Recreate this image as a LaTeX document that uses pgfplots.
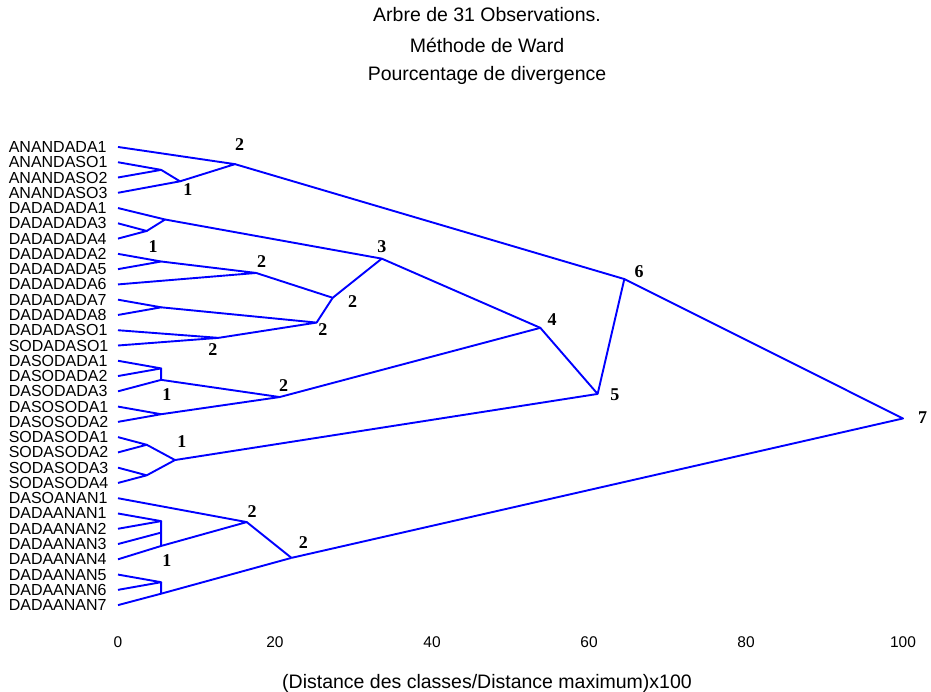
\documentclass[border=0pt]{standalone}
\usepackage{pgfplots}
\pgfplotsset{compat=1.18}
\usepackage{fontspec}
\setmainfont{Liberation Sans}
\newfontfamily\tnr{Liberation Serif}
\begin{document}
\begin{tikzpicture}[x=1pt,y=1pt]
\useasboundingbox (0,0) rectangle (931,692);
\node[font=\fontsize{19.5}{23}\selectfont] at (487,677) {Arbre de 31 Observations.};
\node[font=\fontsize{19.5}{23}\selectfont] at (487,647) {Méthode de Ward};
\node[font=\fontsize{19.5}{23}\selectfont] at (487,617) {Pourcentage de divergence};
\node[font=\fontsize{19.5}{23}\selectfont] at (487,9) {(Distance des classes/Distance maximum)x100};
\begin{axis}[at={(118pt,71.6pt)}, anchor=south west, scale only axis,
  width=785pt, height=488.7pt,
  xmin=0, xmax=100, ymin=-1, ymax=31, clip=false,
  axis lines*=left, axis line style={draw=none}, tick style={draw=none},
  major tick length=0pt,
  xtick={0,20,40,60,80,100},
  ytick={0,...,30},
  yticklabels={DADAANAN7,DADAANAN6,DADAANAN5,DADAANAN4,DADAANAN3,DADAANAN2,DADAANAN1,DASOANAN1,SODASODA4,SODASODA3,SODASODA2,SODASODA1,DASOSODA2,DASOSODA1,DASODADA3,DASODADA2,DASODADA1,SODADASO1,DADADASO1,DADADADA8,DADADADA7,DADADADA6,DADADADA5,DADADADA2,DADADADA4,DADADADA3,DADADADA1,ANANDASO3,ANANDASO2,ANANDASO1,ANANDADA1},
  /pgf/number format/assume math mode=true,
  xticklabel style={font=\fontsize{15.5}{18}\selectfont, anchor=center, yshift=-21.6pt},
  yticklabel style={font=\fontsize{16}{16}\selectfont, inner sep=0pt, text width=100pt, align=left, xshift=-9pt},
  br/.style={color=blue, solid, line width=1.9pt, mark=none, line join=round},
]
\addplot[br] coordinates {(0,29) (5.5,28.5) (0,28)};
\addplot[br] coordinates {(5.5,28.5) (7.9,27.75) (0,27)};
\addplot[br] coordinates {(0,30) (14.9,28.875) (7.9,27.75)};
\addplot[br] coordinates {(14.9,28.875) (64.5,21.3516) (100,12.2227) (22.1,3.0938)};
\addplot[br] coordinates {(0,25) (3.66,24.5) (0,24)};
\addplot[br] coordinates {(0,26) (6.0,25.25) (3.66,24.5)};
\addplot[br] coordinates {(6.0,25.25) (33.6,22.6875) (53.8,18.1563) (61.1,13.8281) (64.5,21.3516)};
\addplot[br] coordinates {(0,23) (5.5,22.5) (0,22)};
\addplot[br] coordinates {(5.5,22.5) (17.6,21.75) (0,21)};
\addplot[br] coordinates {(17.6,21.75) (27.35,20.125) (33.6,22.6875)};
\addplot[br] coordinates {(0,20) (5.5,19.5) (0,19)};
\addplot[br] coordinates {(0,18) (12.8,17.5) (0,17)};
\addplot[br] coordinates {(5.5,19.5) (25.3,18.5) (12.8,17.5)};
\addplot[br] coordinates {(25.3,18.5) (27.35,20.125)};
\addplot[br] coordinates {(0,16) (5.5,15.5) (0,15)};
\addplot[br] coordinates {(5.5,15.5) (5.5,14.75) (0,14)};
\addplot[br] coordinates {(0,13) (5.5,12.5) (0,12)};
\addplot[br] coordinates {(5.5,14.75) (20.6,13.625) (5.5,12.5)};
\addplot[br] coordinates {(20.6,13.625) (53.8,18.1563)};
\addplot[br] coordinates {(0,11) (3.66,10.5) (0,10)};
\addplot[br] coordinates {(0,9) (3.66,8.5) (0,8)};
\addplot[br] coordinates {(3.66,10.5) (7.26,9.5) (3.66,8.5)};
\addplot[br] coordinates {(7.26,9.5) (61.1,13.8281)};
\addplot[br] coordinates {(0,6) (5.5,5.5) (0,5)};
\addplot[br] coordinates {(5.5,5.5) (5.5,4.75) (0,4)};
\addplot[br] coordinates {(5.5,4.75) (5.5,3.875) (0,3)};
\addplot[br] coordinates {(0,7) (16.4,5.4375) (5.5,3.875)};
\addplot[br] coordinates {(16.4,5.4375) (22.1,3.0938)};
\addplot[br] coordinates {(0,2) (5.5,1.5) (0,1)};
\addplot[br] coordinates {(5.5,1.5) (5.5,0.75) (0,0)};
\addplot[br] coordinates {(5.5,0.75) (22.1,3.0938)};
\begin{scope}[every node/.style={font=\tnr\bfseries\fontsize{18}{20}\selectfont, inner sep=0pt}]
\node at (axis cs:15.5,30.13) {2};
\node at (axis cs:8.9,27.18) {1};
\node at (axis cs:4.46,23.45) {1};
\node at (axis cs:18.3,22.47) {2};
\node at (axis cs:12.1,16.71) {2};
\node at (axis cs:26.1,18.02) {2};
\node at (axis cs:29.9,19.85) {2};
\node at (axis cs:33.6,23.45) {3};
\node at (axis cs:21.1,14.41) {2};
\node at (axis cs:55.3,18.67) {4};
\node at (axis cs:63.3,13.76) {5};
\node at (axis cs:66.4,21.81) {6};
\node at (axis cs:102.5,12.3) {7};
\node at (axis cs:6.24,13.76) {1};
\node at (axis cs:8.15,10.7) {1};
\node at (axis cs:17.1,6.1) {2};
\node at (axis cs:23.6,4.13) {2};
\node at (axis cs:6.24,2.95) {1};
\end{scope}
\end{axis}
\end{tikzpicture}
\end{document}
